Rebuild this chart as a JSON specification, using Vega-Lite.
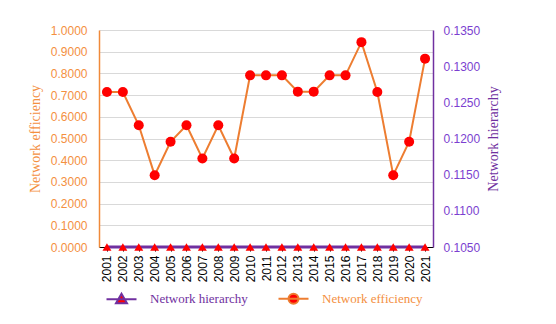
{
  "$schema": "https://vega.github.io/schema/vega-lite/v6.json",
  "width": 334,
  "height": 217,
  "autosize": {"type": "none"},
  "padding": {"left": 99, "top": 30, "right": 123, "bottom": 77},
  "background": "white",
  "config": {"view": {"stroke": null}},
  "data": {"values": [
    {"year": "2001", "eff": 0.714, "hier": 0.105},
    {"year": "2002", "eff": 0.714, "hier": 0.105},
    {"year": "2003", "eff": 0.561, "hier": 0.105},
    {"year": "2004", "eff": 0.331, "hier": 0.105},
    {"year": "2005", "eff": 0.485, "hier": 0.105},
    {"year": "2006", "eff": 0.561, "hier": 0.105},
    {"year": "2007", "eff": 0.408, "hier": 0.105},
    {"year": "2008", "eff": 0.561, "hier": 0.105},
    {"year": "2009", "eff": 0.408, "hier": 0.105},
    {"year": "2010", "eff": 0.791, "hier": 0.105},
    {"year": "2011", "eff": 0.791, "hier": 0.105},
    {"year": "2012", "eff": 0.791, "hier": 0.105},
    {"year": "2013", "eff": 0.716, "hier": 0.105},
    {"year": "2014", "eff": 0.716, "hier": 0.105},
    {"year": "2015", "eff": 0.791, "hier": 0.105},
    {"year": "2016", "eff": 0.791, "hier": 0.105},
    {"year": "2017", "eff": 0.944, "hier": 0.105},
    {"year": "2018", "eff": 0.714, "hier": 0.105},
    {"year": "2019", "eff": 0.331, "hier": 0.105},
    {"year": "2020", "eff": 0.485, "hier": 0.105},
    {"year": "2021", "eff": 0.868, "hier": 0.105}
  ]},
  "encoding": {
    "x": {
      "field": "year", "type": "ordinal",
      "scale": {"type": "point", "padding": 0.5},
      "axis": {
        "title": null, "labelAngle": -90, "labelFont": "Liberation Sans", "labelFontSize": 12,
        "labelColor": "#000000", "domainColor": "#000000", "tickColor": "#000000", "tickSize": 4,
        "labelPadding": 4, "grid": false, "labelBaseline": "middle", "labelOverlap": false
      }
    }
  },
  "layer": [
    {
      "encoding": {
        "y": {
          "field": "eff", "type": "quantitative",
          "scale": {"domain": [0, 1], "nice": false, "zero": true},
          "axis": {
            "title": "Network efficiency", "titleFont": "Liberation Serif", "titleFontSize": 14,
            "titleFontWeight": "normal", "titleColor": "#F4903F", "titlePadding": 8,
            "values": [0, 0.1, 0.2, 0.3, 0.4, 0.5, 0.6, 0.7, 0.8, 0.9, 1.0],
            "format": ".4f", "labelFont": "Liberation Sans", "labelFontSize": 12,
            "labelColor": "#F4903F", "domainColor": "#F08A3A", "domainWidth": 1.5,
            "ticks": false, "labelPadding": 12, "grid": true, "gridColor": "#D9D9D9", "gridWidth": 1.2,
            "labelOverlap": false
          }
        }
      },
      "layer": [
        {
          "mark": {"type": "line", "strokeWidth": 2},
          "encoding": {
            "stroke": {
              "datum": "Network efficiency", "type": "nominal",
              "scale": {"domain": ["Network hierarchy", "Network efficiency"], "range": ["#7030A0", "#ED7D31"]},
              "legend": {
                "title": null, "orient": "none", "legendX": 16, "legendY": 262, "direction": "horizontal",
                "columns": 2, "columnPadding": 26, "symbolSize": 100, "labelOffset": 22,
                "labelFont": "Liberation Serif", "labelFontSize": 13,
                "symbolStrokeWidth": 2,
                "encode": {
                  "symbols": {"update": {
                    "shape": {"signal": "datum.value === 'Network hierarchy' ? 'M-3,0H3M0,-1.1L1.1,0.8H-1.1Z' : 'M-3,0H3M1,0A1,1,0,1,1,-1,0A1,1,0,1,1,1,0Z'"},
                    "fill": {"value": "#FF0000"},
                    "strokeWidth": {"value": 2}
                  }},
                  "labels": {"update": {
                    "fill": {"signal": "datum.value === 'Network hierarchy' ? '#7030A0' : '#F4903F'"}
                  }}
                }
              }
            }
          }
        },
        {
          "mark": {"type": "point", "filled": true, "shape": "circle", "size": 100, "color": "#FF0000", "opacity": 1},
          "encoding": {}
        }
      ]
    },
    {
      "encoding": {
        "y": {
          "field": "hier", "type": "quantitative",
          "scale": {"domain": [0.105, 0.135], "nice": false, "zero": false},
          "axis": {
            "orient": "right",
            "title": "Network hierarchy", "titleFont": "Liberation Serif", "titleFontSize": 14,
            "titleFontWeight": "normal", "titleColor": "#7030A0", "titleAngle": -90, "titlePadding": 21,
            "values": [0.105, 0.11, 0.115, 0.12, 0.125, 0.13, 0.135],
            "format": ".4f", "labelFont": "Liberation Sans", "labelFontSize": 12,
            "labelColor": "#7B3FD0", "domainColor": "#7030A0", "domainWidth": 1.5,
            "tickColor": "#7030A0", "tickSize": 0, "labelPadding": 10, "grid": false,
            "labelOverlap": false
          }
        }
      },
      "layer": [
        {
          "mark": {"type": "line", "strokeWidth": 3},
          "encoding": {
            "stroke": {"datum": "Network hierarchy", "type": "nominal"}
          }
        },
        {
          "mark": {"type": "point", "filled": true, "shape": "triangle-up", "size": 80, "color": "#FF0000", "opacity": 1},
          "encoding": {}
        }
      ]
    }
  ],
  "resolve": {"scale": {"y": "independent"}}
}
